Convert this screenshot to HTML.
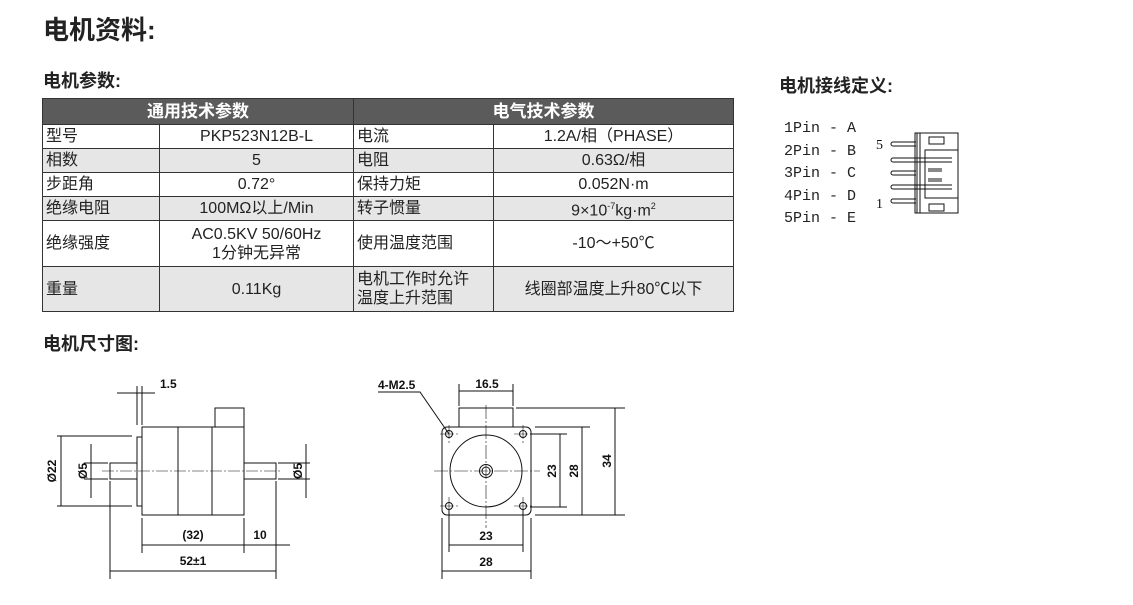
<!DOCTYPE html>
<html><head><meta charset="utf-8"><style>
body{margin:0;width:1133px;height:605px;background:#fff;position:relative;overflow:hidden;font-family:"Liberation Sans","Noto Sans CJK SC",sans-serif;color:#222}
.t{position:absolute;font-weight:bold;white-space:nowrap}
table{position:absolute;left:42px;top:98px;border-collapse:collapse;font-size:16px}
td{border:1px solid #333;padding:0;height:23px;line-height:19px}
td.l{padding-left:3px;text-align:left}
td.c{text-align:center}
tr.g td{background:#e6e6e6}
tr.h td{background:#5b5b5b;color:#fff;font-weight:bold;text-align:center;height:25px;font-size:17px}
.pin{position:absolute;left:784px;font-family:"Liberation Mono","Noto Serif CJK SC",monospace;font-size:15px;line-height:15px;white-space:pre}
</style></head><body>
<div class="t" style="left:43px;top:10px;font-size:26px">电机资料:</div>
<div class="t" style="left:43px;top:67px;font-size:18px">电机参数:</div>
<div class="t" style="left:43px;top:330px;font-size:18px">电机尺寸图:</div>
<div class="t" style="left:779px;top:72px;font-size:18px">电机接线定义:</div>
<table>
<colgroup><col style="width:117px"><col style="width:194px"><col style="width:140px"><col style="width:240px"></colgroup>
<tr class="h"><td colspan="2">通用技术参数</td><td colspan="2">电气技术参数</td></tr>
<tr><td class="l">型号</td><td class="c">PKP523N12B-L</td><td class="l">电流</td><td class="c">1.2A/相（PHASE）</td></tr>
<tr class="g"><td class="l">相数</td><td class="c">5</td><td class="l">电阻</td><td class="c">0.63Ω/相</td></tr>
<tr><td class="l">步距角</td><td class="c">0.72°</td><td class="l">保持力矩</td><td class="c">0.052N·m</td></tr>
<tr class="g"><td class="l">绝缘电阻</td><td class="c">100MΩ以上/Min</td><td class="l">转子惯量</td><td class="c">9×10<sup style="font-size:9px">-7</sup>kg·m<sup style="font-size:9px">2</sup></td></tr>
<tr><td class="l" style="height:45px">绝缘强度</td><td class="c">AC0.5KV 50/60Hz<br>1分钟无异常</td><td class="l">使用温度范围</td><td class="c">-10～+50℃</td></tr>
<tr class="g"><td class="l" style="height:44px">重量</td><td class="c">0.11Kg</td><td class="l">电机工作时允许<br>温度上升范围</td><td class="c">线圈部温度上升80℃以下</td></tr>
</table>
<div class="pin" style="top:121px">1Pin - A</div>
<div class="pin" style="top:144px">2Pin - B</div>
<div class="pin" style="top:166px">3Pin - C</div>
<div class="pin" style="top:189px">4Pin - D</div>
<div class="pin" style="top:211px">5Pin - E</div>
<svg width="1133" height="605" style="position:absolute;left:0;top:0" font-family="Liberation Sans" font-weight="bold" font-size="12">
<g stroke="#111" fill="none" stroke-width="1">
<rect x="915" y="133" width="43" height="80"/><line x1="917" y1="133" x2="917" y2="213"/><line x1="920" y1="133" x2="920" y2="213"/>
<rect x="925" y="150" width="33" height="48"/>
<rect x="929" y="137" width="15" height="7"/><rect x="929" y="204" width="15" height="7"/>
<path d="M916 142H893a2 2 0 0 0 0 4H916M952 158H893a2 2 0 0 0 0 4H952M916 171H893a2 2 0 0 0 0 4H916M952 185H893a2 2 0 0 0 0 4H952M916 199H893a2 2 0 0 0 0 4H916"/>
<rect x="928" y="168" width="14" height="4" fill="#888" stroke="none"/><rect x="928" y="178" width="14" height="4" fill="#888" stroke="none"/>
<rect x="142" y="427" width="102" height="88"/><line x1="178" y1="427" x2="178" y2="515"/><line x1="212" y1="427" x2="212" y2="515"/>
<rect x="215" y="408" width="29" height="19"/>
<rect x="137" y="437" width="5" height="69"/>
<rect x="110" y="463" width="27" height="16"/><rect x="244" y="463" width="32" height="16"/>
<line x1="102" y1="471" x2="282" y2="471" stroke-dasharray="12 2 2 2" stroke-width="0.6"/>
<path d="M57 436H132M57 506H132M61 436V506M84 463H108M84 479H108M91 444V498M278 463H310M278 479H310M306 444V498"/>
<path d="M137 386V425M142 386V425M117 393H155"/>
<path d="M142 518V553M244 518V553M142 545H290M110 481V579M276 481V579M110 571H276"/>
<rect x="442" y="427" width="89" height="88" rx="5"/>
<rect x="459" y="408" width="54" height="19"/>
<circle cx="486" cy="471" r="36"/><circle cx="486" cy="471" r="6.5"/><circle cx="486" cy="471" r="4"/>
<circle cx="449" cy="434" r="3.5"/><circle cx="523" cy="434" r="3.5"/><circle cx="449" cy="506" r="3.5"/><circle cx="523" cy="506" r="3.5"/>
<path d="M434 471H540M486 405V528M440 434H458M440 506H458M514 434H532M514 506H532M449 425V443M449 497V515M523 425V443M523 497V515" stroke-width="0.6" stroke-dasharray="14 2 2 2"/>
<path d="M459 384V406M513 384V406M459 391H513"/>
<path d="M378 392H420L449 434"/>
<path d="M530 434H567M530 507H567M560 434V507M535 427H590M535 515H625M582 427V515M516 408H625M615 408V515"/>
<path d="M449 510V552M523 510V552M449 545H523M442 518V579M531 518V579M442 571H531"/>
</g>
<g fill="#111">
<text x="160" y="388">1.5</text>
<text x="193" y="539" text-anchor="middle">(32)</text>
<text x="260" y="539" text-anchor="middle">10</text>
<text x="193" y="565" text-anchor="middle">52±1</text>
<text transform="translate(56 471) rotate(-90)" text-anchor="middle">Ø22</text>
<text transform="translate(87 471) rotate(-90)" text-anchor="middle">Ø5</text>
<text transform="translate(302 471) rotate(-90)" text-anchor="middle">Ø5</text>
<text x="378" y="389">4-M2.5</text>
<text x="487" y="388" text-anchor="middle">16.5</text>
<text transform="translate(556 471) rotate(-90)" text-anchor="middle">23</text>
<text transform="translate(578 471) rotate(-90)" text-anchor="middle">28</text>
<text transform="translate(611 461) rotate(-90)" text-anchor="middle">34</text>
<text x="486" y="540" text-anchor="middle">23</text>
<text x="486" y="566" text-anchor="middle">28</text>
<text x="876" y="149" font-family="Liberation Serif" font-weight="normal" font-size="14">5</text>
<text x="876" y="208" font-family="Liberation Serif" font-weight="normal" font-size="14">1</text>
</g>
</svg>
</body></html>
